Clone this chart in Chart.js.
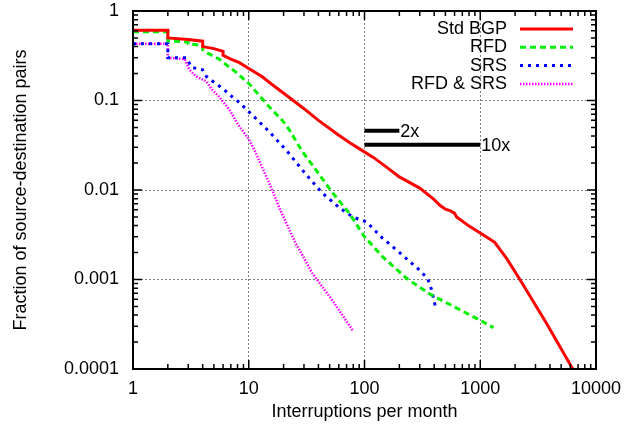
<!DOCTYPE html>
<html>
<head>
<meta charset="utf-8">
<script src="https://cdn.jsdelivr.net/npm/chart.js@4.4.1/dist/chart.umd.min.js"></script>
<style>
  html, body { margin: 0; padding: 0; background: #fff; }
</style>
</head>
<body>
<canvas id="chart" width="641" height="428"></canvas>
<script>
// tick labels
const xTicks = [1, 10, 100, 1000, 10000];
const xTickLabels = ["1", "10", "100", "1000", "10000"];
const yTicks = [0.0001, 0.001, 0.01, 0.1, 1];
const yTickLabels = ["0.0001", "0.001", "0.01", "0.1", "1"];

const seriesNames = ["Std BGP", "RFD", "SRS", "RFD & SRS"];
const seriesColors = ["#ff0000", "#00ee00", "#0000ff", "#ff00ff"];

// series (x = interruptions, y = fraction)
const stdBgpX = [1, 2, 2, 3, 4, 4, 5, 6, 6, 7, 8.3, 10, 13, 16, 22.4, 30, 40, 60, 74, 90, 120, 155, 200, 300, 400, 445, 500, 560, 600, 625, 813, 1000, 1334, 1700, 2200, 3700, 6300];
const stdBgpY = [0.61, 0.61, 0.5, 0.48, 0.46, 0.4, 0.38, 0.355, 0.32, 0.29, 0.265, 0.228, 0.185, 0.15, 0.108, 0.081, 0.06, 0.041, 0.034, 0.029, 0.023, 0.018, 0.014, 0.0105, 0.0078, 0.0068, 0.0061, 0.0058, 0.0055, 0.005, 0.0039, 0.0033, 0.0026, 0.0017, 0.001, 0.00033, 0.0001];

const rfdX = [1, 2, 2, 3, 3, 4, 4, 4.3, 5.55, 6.8, 7.8, 10, 13, 15, 19.5, 22.4, 29, 38, 53, 74, 100, 143, 231, 365, 524, 1000, 1300];
const rfdY = [0.585, 0.585, 0.465, 0.45, 0.43, 0.41, 0.37, 0.345, 0.29, 0.235, 0.206, 0.155, 0.105, 0.085, 0.06, 0.047, 0.027, 0.0168, 0.0093, 0.0055, 0.003, 0.0018, 0.00103, 0.00069, 0.00054, 0.00035, 0.00029];

const srsX = [1, 2, 2, 2.9, 3.2, 4, 4.3, 5, 6.1, 7.2, 8.3, 10, 15, 21.5, 31.5, 43, 61, 79, 104, 143, 201, 288, 351, 381, 404, 412];
const srsY = [0.43, 0.43, 0.3, 0.3, 0.235, 0.22, 0.186, 0.16, 0.133, 0.11, 0.095, 0.075, 0.045, 0.027, 0.0147, 0.0093, 0.0063, 0.005, 0.0044, 0.0029, 0.002, 0.00133, 0.00103, 0.00076, 0.00054, 0.00046];

const bothX = [1, 2, 2, 2.8, 3.05, 3.5, 4.3, 4.8, 5.55, 6.8, 8, 10, 11.2, 15.7, 18.4, 24.8, 35.5, 53, 79];
const bothY = [0.43, 0.43, 0.3, 0.29, 0.223, 0.186, 0.164, 0.133, 0.11, 0.079, 0.055, 0.037, 0.028, 0.0105, 0.0063, 0.0027, 0.00117, 0.00058, 0.00027];

// the "2x" / "10x" bars
const markerNames = ["2x", "10x"];
const markerStart = [100, 100];
const markerEnd = [200, 1000];
const markerLevel = [0.046, 0.032];

const FONT = "'Liberation Sans', Arial, Helvetica, sans-serif";

const toPoints = (xs, ys) => xs.map((x, i) => ({ x: x, y: ys[i] }));

const lineStyles = [
  { borderWidth: 3, borderDash: [] },
  { borderWidth: 3, borderDash: [6, 4] },
  { borderWidth: 3, borderDash: [3, 5] },
  { borderWidth: 2.5, borderDash: [1.5, 1.5] },
];

const seriesData = [
  toPoints(stdBgpX, stdBgpY),
  toPoints(rfdX, rfdY),
  toPoints(srsX, srsY),
  toPoints(bothX, bothY),
];

const datasets = seriesNames.map((name, i) => ({
  label: name,
  data: seriesData[i],
  borderColor: seriesColors[i],
  borderWidth: lineStyles[i].borderWidth,
  borderDash: lineStyles[i].borderDash,
  borderCapStyle: "butt",
  pointRadius: 0,
  tension: 0,
  fill: false,
}));

markerNames.forEach((name, i) => {
  datasets.push({
    label: name,
    data: [{ x: markerStart[i], y: markerLevel[i] }, { x: markerEnd[i], y: markerLevel[i] }],
    borderColor: "#000",
    borderWidth: 4,
    borderCapStyle: "butt",
    pointRadius: 0,
    fill: false,
  });
});

// frame with inward ticks, legend and bar labels (gnuplot look)
const framePlugin = {
  id: "frame",
  afterDraw(chart) {
    const c = chart.ctx;
    const area = chart.chartArea;
    const xs = chart.scales.x;
    const ys = chart.scales.y;
    c.save();

    c.strokeStyle = "#000";
    c.lineWidth = 1.5;
    const tick = (px, len, vertical) => {
      c.beginPath();
      if (vertical) {
        c.moveTo(px, area.bottom); c.lineTo(px, area.bottom - len);
        c.moveTo(px, area.top); c.lineTo(px, area.top + len);
      } else {
        c.moveTo(area.left, px); c.lineTo(area.left + len, px);
        c.moveTo(area.right, px); c.lineTo(area.right - len, px);
      }
      c.stroke();
    };
    xTicks.forEach((d, i) => {
      tick(xs.getPixelForValue(d), 9, true);
      if (i < xTicks.length - 1) {
        for (let m = 2; m <= 9; m++) tick(xs.getPixelForValue(d * m), 5, true);
      }
    });
    yTicks.forEach((d, i) => {
      tick(ys.getPixelForValue(d), 9, false);
      if (i < yTicks.length - 1) {
        for (let m = 2; m <= 9; m++) tick(ys.getPixelForValue(d * m), 5, false);
      }
    });

    c.lineWidth = 2;
    c.strokeRect(area.left, area.top, area.right - area.left, area.bottom - area.top);

    // legend
    c.font = "18px " + FONT;
    c.fillStyle = "#000";
    c.textAlign = "right";
    c.textBaseline = "middle";
    seriesNames.forEach((name, i) => {
      const y = area.top + 18 + i * 18.3;
      c.fillText(name, area.right - 89, y);
      c.save();
      c.strokeStyle = seriesColors[i];
      c.lineWidth = lineStyles[i].borderWidth;
      c.setLineDash(lineStyles[i].borderDash);
      c.beginPath();
      c.moveTo(area.right - 76, y);
      c.lineTo(area.right - 23, y);
      c.stroke();
      c.restore();
    });

    // bar labels
    c.textAlign = "left";
    markerNames.forEach((name, i) => {
      c.fillText(name, xs.getPixelForValue(markerEnd[i]) + 1, ys.getPixelForValue(markerLevel[i]) + 1);
    });
    c.restore();
  },
};

const gridColor = (ctx) => {
  const n = ctx.chart.scales[ctx.scale.id].ticks.length;
  return ctx.index === 0 || ctx.index === n - 1 ? "rgba(0,0,0,0)" : "#808080";
};

new Chart(document.getElementById("chart"), {
  type: "line",
  data: { datasets: datasets },
  options: {
    responsive: false,
    animation: false,
    devicePixelRatio: 1,
    layout: { padding: { left: 0, right: 45, top: 11, bottom: 0 } },
    plugins: {
      legend: { display: false },
      tooltip: { enabled: false },
    },
    scales: {
      x: {
        type: "logarithmic",
        min: 1,
        max: 10000,
        afterBuildTicks: (s) => { s.ticks = xTicks.map((v) => ({ value: v })); },
        afterFit: (s) => { s.height = 59; s.paddingLeft = 0; s.paddingRight = 0; },
        ticks: {
          autoSkip: false,
          maxRotation: 0,
          padding: 9,
          color: "#000",
          font: { family: FONT, size: 18 },
          callback: (v) => xTickLabels[xTicks.indexOf(v)],
        },
        grid: { color: gridColor, lineWidth: 1, drawTicks: false },
        border: { display: false, dash: [2, 2] },
        title: {
          display: true,
          text: "Interruptions per month",
          color: "#000",
          font: { family: FONT, size: 18 },
          padding: { top: 0, bottom: 5 },
        },
      },
      y: {
        type: "logarithmic",
        min: 0.0001,
        max: 1,
        afterBuildTicks: (s) => { s.ticks = yTicks.map((v) => ({ value: v })); },
        afterFit: (s) => { s.width = 133; s.paddingTop = 0; s.paddingBottom = 0; },
        ticks: {
          autoSkip: false,
          padding: 14,
          color: "#000",
          font: { family: FONT, size: 18 },
          callback: (v) => yTickLabels[yTicks.indexOf(v)],
        },
        grid: { color: gridColor, lineWidth: 1, drawTicks: false },
        border: { display: false, dash: [2, 2] },
        title: {
          display: true,
          text: "Fraction of source-destination pairs",
          color: "#000",
          font: { family: FONT, size: 18 },
          padding: { top: 10, bottom: 0 },
        },
      },
    },
  },
  plugins: [framePlugin],
});
</script>
</body>
</html>
